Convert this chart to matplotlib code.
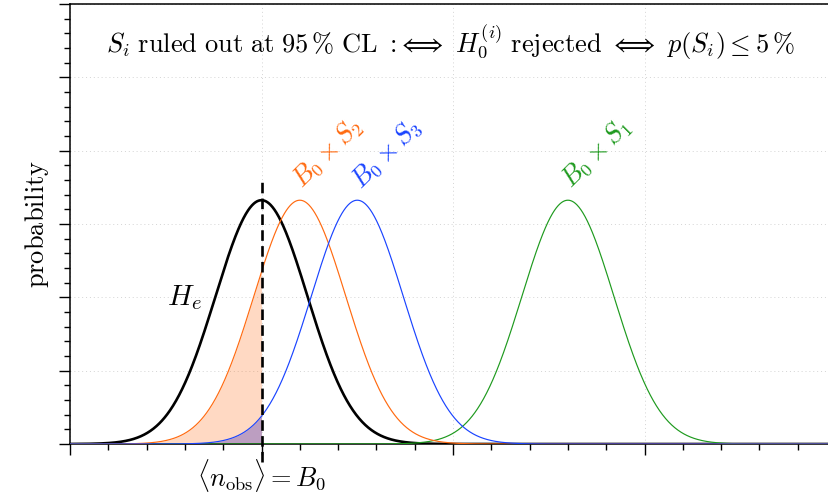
import numpy as np
import matplotlib
matplotlib.use("Agg")
import matplotlib.pyplot as plt
from matplotlib.ticker import MultipleLocator

plt.rcParams["mathtext.fontset"] = "cm"
plt.rcParams["font.family"] = ["DejaVu Serif"]

# Hypotheses: expected counts (mean) and common width of the distributions
names = ["He", "B0xS1", "B0xS2", "B0xS3"]
means = [5.0, 13.0, 6.0, 7.5]
sigma = 1.2
colors = ["black", "#1e9a1e", "#ff6a10", "#1a44ff"]
widths = [1.9, 0.85, 0.85, 0.85]
labels = [r"$H_e$", r"$B_0\times S_1$", r"$B_0\times S_2$", r"$B_0\times S_3$"]
label_x = [3.0, 13.72, 6.72, 8.24]
label_y = [0.20, 0.397, 0.397, 0.397]
label_rot = [0, 45, 45, 45]
label_size = [21, 19, 19, 19]
n_obs = 5.0

title = (r"$S_i\ \mathrm{ruled\ out\ at\ 95\,\%\ CL}\ :\!\Longleftrightarrow\ "
         r"H_0^{(i)}\ \mathrm{rejected}\ \Longleftrightarrow\ p(S_i)\leq 5\,\%$")


def gauss(x, mu, s):
    return np.exp(-0.5 * ((x - mu) / s) ** 2) / (s * np.sqrt(2 * np.pi))


fig = plt.figure(figsize=(8.29, 4.94), dpi=100)
ax = fig.add_axes([70 / 829, 50 / 494, 766 / 829, 440 / 494])

x = np.linspace(0, 20, 2001)
for mu, c, lw in zip(means, colors, widths):
    ax.plot(x, gauss(x, mu, sigma), color=c, lw=lw, zorder=3)

# shaded tails left of the observation
xl = x[x <= n_obs]
ax.fill_between(xl, 0, gauss(xl, means[2], sigma), color=colors[2], alpha=0.25, lw=0, zorder=2)
ax.fill_between(xl, 0, gauss(xl, means[3], sigma), color="#4030c0", alpha=0.35, lw=0, zorder=2)

# observed count marker
ax.plot([n_obs, n_obs], [-0.0245, 0.363], color="black", lw=1.9, ls=(0, (4, 2)),
        clip_on=False, zorder=4)

for lab, lx, ly, rot, c, fs in zip(labels, label_x, label_y, label_rot, colors, label_size):
    ax.text(lx, ly, lab, color=c, fontsize=fs, rotation=rot, ha="center", va="center",
            rotation_mode="anchor", zorder=5)

ax.text(0.497, 0.915, title, transform=ax.transAxes, ha="center", va="center", fontsize=19)

ax.set_xlim(0, 20)
ax.set_ylim(0, 0.6)
ax.xaxis.set_major_locator(MultipleLocator(5))
ax.xaxis.set_minor_locator(MultipleLocator(1))
ax.yaxis.set_major_locator(MultipleLocator(0.1))
ax.yaxis.set_minor_locator(MultipleLocator(0.02))
ax.set_xticks([0, 5, 10, 15, 20])
ax.set_xticklabels(["", r"$\langle n_{\mathrm{obs}}\rangle = B_0$", "", "", ""], fontsize=19)
ax.set_yticklabels([])
ax.tick_params(which="major", direction="out", length=8, width=1)
ax.tick_params(which="minor", direction="out", length=4, width=1)
ax.tick_params(axis="x", which="major", pad=1)
ax.grid(True, which="major", ls=(0, (1, 3)), color="#d4d4d4", lw=0.7)
ax.set_axisbelow(True)
for s in ["left", "bottom", "top"]:
    ax.spines[s].set_linewidth(1.1)
ax.spines["right"].set_visible(False)

ax.set_ylabel(r"$\mathrm{probability}$", fontsize=19, labelpad=2)

fig.savefig("out.png", dpi=100)
